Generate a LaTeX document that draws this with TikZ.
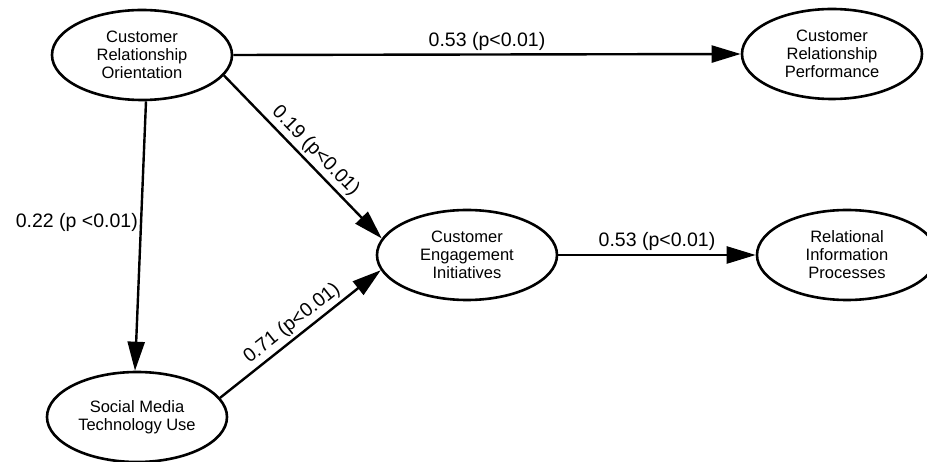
\documentclass[tikz,border=0pt]{standalone}
\usepackage{fontspec}
\setmainfont{Liberation Sans}
\usetikzlibrary{shapes.geometric,arrows.meta}
\begin{document}
\begin{tikzpicture}[x=1pt,y=-1pt,
  latent/.style={ellipse,draw,line width=2.6pt,minimum width=180pt,minimum height=90pt,inner sep=0pt,align=center,font=\fontsize{16.5}{18}\selectfont},
  arr/.style={line width=2.4pt,-{Triangle[length=29pt,width=17pt]}},
  lbl/.style={font=\fontsize{19.5}{22}\selectfont,inner sep=3pt}]
\useasboundingbox[fill=white] (0,0) rectangle (927,462);
\node[latent] (cro) at (142,55) {Customer\\Relationship\\Orientation};
\node[latent] (crp) at (832,54) {Customer\\Relationship\\Performance};
\node[latent] (cei) at (467,255) {Customer\\Engagement\\Initiatives};
\node[latent] (rip) at (847,255) {Relational\\Information\\Processes};
\node[latent] (smtu) at (137,417) {Social Media\\Technology Use};
\draw[arr] (cro.east) -- node[lbl,above,pos=0.5] {0.53 (p<0.01)} (crp.west);
\draw[arr] (cei.east) -- node[lbl,above,pos=0.5] {0.53 (p<0.01)} (rip.west);
\draw[arr] ([xshift=4pt]cro.south) -- node[lbl,left,pos=0.45,inner sep=2pt] {0.22 (p <0.01)} ([xshift=-2pt]smtu.north);
\draw[arr] (cro.-14) -- node[lbl,above,sloped,pos=0.52] {0.19 (p<0.01)} (cei.169);
\draw[arr] (smtu.13) -- node[lbl,above,sloped,pos=0.5] {0.71 (p<0.01)} (cei.190);
\end{tikzpicture}
\end{document}
